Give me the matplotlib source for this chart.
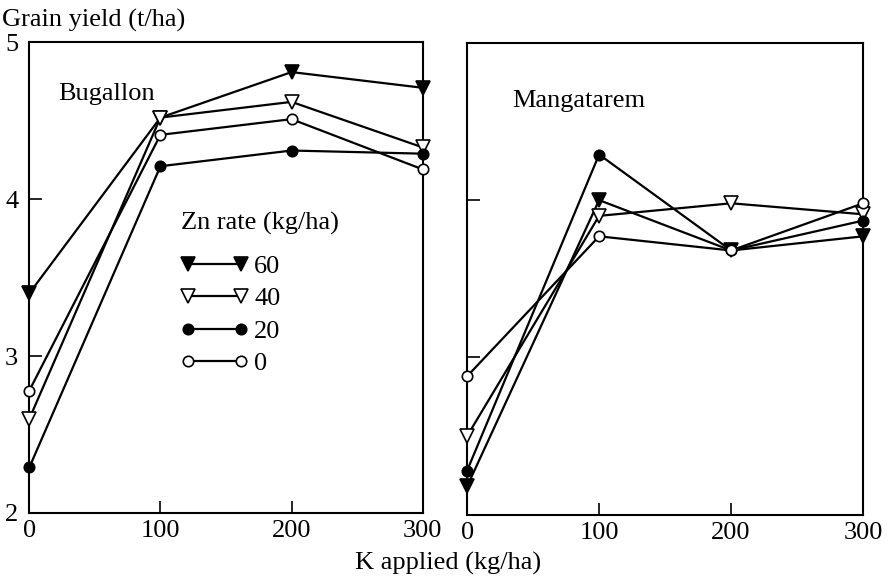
#!/usr/bin/env python
"""Grain yield response to K at four Zn rates, two sites."""

import matplotlib

matplotlib.use("Agg")
import matplotlib.pyplot as plt

k_applied = [0, 100, 200, 300]
zn_rates = ["60", "40", "20", "0"]

bugallon = {
    "60": [3.40, 4.52, 4.81, 4.71],
    "40": [2.60, 4.52, 4.62, 4.33],
    "20": [2.29, 4.21, 4.31, 4.29],
    "0": [2.78, 4.41, 4.51, 4.19],
}
mangatarem = {
    "60": [2.18, 4.00, 3.68, 3.77],
    "40": [2.50, 3.90, 3.98, 3.91],
    "20": [2.28, 4.29, 3.68, 3.87],
    "0": [2.88, 3.77, 3.68, 3.98],
}

y_ticks = [2, 3, 4, 5]
x_ticks = [0, 100, 200, 300]

styles = {
    "60": dict(marker="v", markerfacecolor="black", markersize=10),
    "40": dict(marker="v", markerfacecolor="white", markersize=10),
    "20": dict(marker="o", markerfacecolor="black", markersize=7.5),
    "0": dict(marker="o", markerfacecolor="white", markersize=7.5),
}

FS = 19

plt.rcParams["font.family"] = ["Liberation Serif", "DejaVu Serif"]
plt.rcParams["font.size"] = FS

fig = plt.figure(figsize=(8.88, 5.79), dpi=100)
ax_left = fig.add_axes([0.033, 0.114, 0.443, 0.813])
ax_right = fig.add_axes([0.526, 0.111, 0.446, 0.815])


def draw_site(ax, data, name, name_xy):
    for rate in zn_rates:
        ax.plot(k_applied, data[rate], color="black", linewidth=1.6,
                markeredgecolor="black", markeredgewidth=1.2,
                label=rate, clip_on=False, zorder=3, **styles[rate])
    ax.set_xlim(0, 300)
    ax.set_ylim(2, 5)
    ax.set_xticks(x_ticks)
    ax.set_yticks(y_ticks)
    ax.tick_params(direction="in", length=9, width=1.2, labelsize=FS)
    ax.tick_params(axis="x", pad=5)
    ax.tick_params(axis="y", pad=8)
    for spine in ax.spines.values():
        spine.set_linewidth(1.5)
    ax.text(name_xy[0], name_xy[1], name, transform=ax.transAxes,
            fontsize=FS, va="baseline")


draw_site(ax_left, bugallon, "Bugallon", (0.074, 0.877))
draw_site(ax_right, mangatarem, "Mangatarem", (0.114, 0.864))
ax_right.set_yticklabels([])

# legend entries, with the heading set a little apart above them
ax_left.text(0.386, 0.616, "Zn rate (kg/ha)", transform=ax_left.transAxes,
             fontsize=FS, va="center")
leg = ax_left.legend(loc="upper left", bbox_to_anchor=(0.35, 0.577),
                     frameon=False, numpoints=2, handlelength=2.6,
                     handletextpad=0.2, labelspacing=0.34, fontsize=FS,
                     borderpad=0)

fig.text(0.002, 0.964, "Grain yield (t/ha)", fontsize=FS, va="center")
fig.text(0.505, 0.027, "K applied (kg/ha)", fontsize=FS, ha="center", va="center")

fig.savefig("out.png")
plt.close(fig)
